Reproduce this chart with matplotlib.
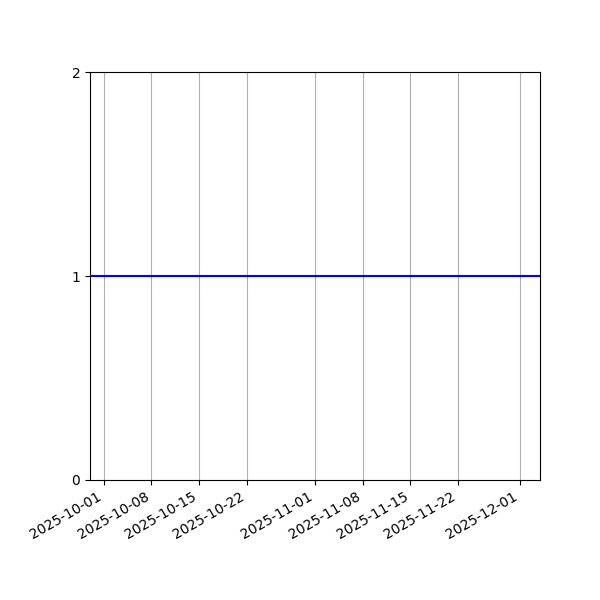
import matplotlib
matplotlib.use("Agg")
import matplotlib.pyplot as plt
import numpy as np

# data
dates = np.array(["2025-09-29", "2025-12-04"], dtype="datetime64[D]")
values = [1, 1]
y_ticks = [0, 1, 2]

fig, ax = plt.subplots(figsize=(6, 6), dpi=100)
ax.plot(dates, values, color="blue")
ax.set_xlim(dates[0], dates[-1])
ax.set_ylim(0, 2)
ax.set_yticks(y_ticks)
ax.grid(True, axis="x")
fig.autofmt_xdate()
fig.subplots_adjust(left=0.15, right=0.9, top=0.88, bottom=0.2)

fig.savefig("out.png")
